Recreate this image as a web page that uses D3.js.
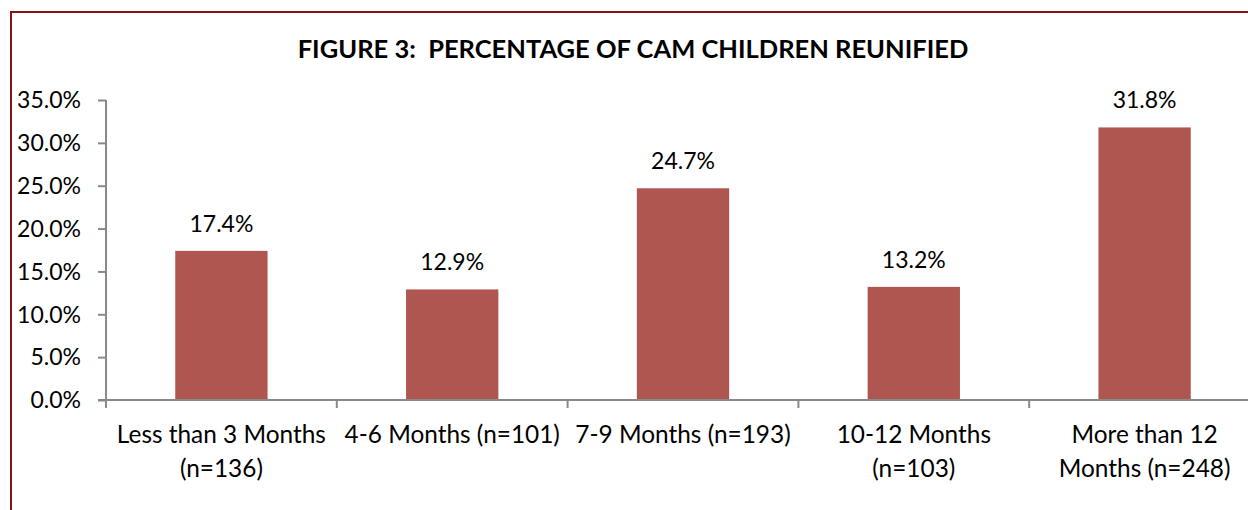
<!DOCTYPE html>
<html>
<head>
<meta charset="utf-8">
<script src="https://cdn.jsdelivr.net/npm/d3@7"></script>
<style>
  html, body { margin: 0; padding: 0; background: #fff; }
  svg { display: block; }
  text { font-family: Lato, "Open Sans", sans-serif; fill: #000; }
</style>
</head>
<body>
<svg id="chart" width="1248" height="510"></svg>
<script>
const categories = ["Less than 3 Months (n=136)", "4-6 Months (n=101)", "7-9 Months (n=193)", "10-12 Months (n=103)", "More than 12 Months (n=248)"];
const categoryLines = [["Less than 3 Months", "(n=136)"], ["4-6 Months (n=101)"], ["7-9 Months (n=193)"], ["10-12 Months", "(n=103)"], ["More than 12", "Months (n=248)"]];
const values = [17.4, 12.9, 24.7, 13.2, 31.8];
const yTicks = [0, 5, 10, 15, 20, 25, 30, 35];
const title = "FIGURE 3:  PERCENTAGE OF CAM CHILDREN REUNIFIED";

const W = 1248, H = 510;
const m = { left: 106, right: 1260, top: 100, bottom: 400 };
const svg = d3.select("#chart");

// outer frame (left and top)
svg.append("path")
  .attr("d", `M11,${H} L11,12 L${W},12`)
  .attr("fill", "none").attr("stroke", "#8B1214").attr("stroke-width", 2);

svg.append("text")
  .attr("x", 633).attr("y", 58)
  .attr("text-anchor", "middle")
  .style("white-space", "pre")
  .attr("font-size", 25.5).attr("font-weight", "bold")
  .text(title);

const x = d3.scaleBand().domain(categories).range([m.left, m.right]).paddingInner(0.6).paddingOuter(0.3);
const y = d3.scaleLinear().domain([0, 35]).range([m.bottom, m.top]);

// bars
svg.append("g").selectAll("rect").data(values).join("rect")
  .attr("x", (d, i) => x(categories[i]))
  .attr("width", x.bandwidth())
  .attr("y", d => y(d))
  .attr("height", d => y(0) - y(d))
  .attr("fill", "#B05651");

// value labels
svg.append("g").selectAll("text").data(values).join("text")
  .attr("x", (d, i) => x(categories[i]) + x.bandwidth() / 2)
  .attr("y", d => y(d) - 19)
  .attr("text-anchor", "middle")
  .attr("font-size", 23)
  .text(d => d.toFixed(1) + "%");

// y axis
const yAxis = d3.axisLeft(y).tickValues(yTicks).tickSize(8).tickPadding(17).tickFormat(d => d.toFixed(1) + "%");
const gy = svg.append("g").attr("transform", `translate(${m.left},0)`).call(yAxis);
gy.select(".domain").attr("stroke", "#898989").attr("stroke-width", 2).attr("d", `M0,${m.top}V${m.bottom}`);
gy.selectAll(".tick line").attr("stroke", "#898989").attr("stroke-width", 2);
gy.selectAll(".tick text").attr("font-size", 23).attr("font-family", "Lato").attr("fill", "#000").attr("dy", "0.34em");

// x axis
const xAxis = d3.axisBottom(x).tickSize(0).tickFormat("");
const gx = svg.append("g").attr("transform", `translate(0,${m.bottom})`).call(xAxis);
gx.select(".domain").attr("stroke", "#898989").attr("stroke-width", 2).attr("d", `M${m.left - 8},0H${m.right}`);
// category boundary ticks
const bounds = categories.map(c => x(c) - x.step() * x.paddingInner() / 2).concat([m.right]);
gx.append("g").selectAll("line").data(bounds).join("line")
  .attr("x1", d => d).attr("x2", d => d).attr("y1", 0).attr("y2", 8)
  .attr("stroke", "#898989").attr("stroke-width", 2);

// category labels
const lab = svg.append("g").selectAll("text").data(categoryLines).join("text")
  .attr("text-anchor", "middle")
  .attr("font-size", 24.4)
  .attr("transform", (d, i) => `translate(${x(categories[i]) + x.bandwidth() / 2},443)`);
lab.selectAll("tspan").data(d => d).join("tspan")
  .attr("x", 0).attr("y", (d, i) => i * 34)
  .text(d => d);
</script>
</body>
</html>
